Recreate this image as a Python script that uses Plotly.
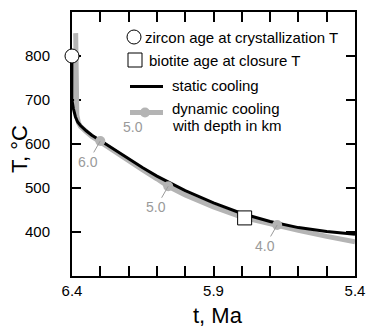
import plotly.graph_objects as go

# ---- data ----
static_t = [6.400, 6.400, 6.395, 6.388, 6.380, 6.370, 6.350, 6.330, 6.300, 6.250, 6.200,
            6.150, 6.100, 6.050, 6.000, 5.900, 5.800, 5.700, 5.600, 5.500, 5.400]
static_T = [800, 700, 680, 662, 650, 642, 630, 620, 608, 587, 566,
            546, 527, 510, 494, 466, 442, 424, 410, 401, 395]

dyn_t = [6.387, 6.387, 6.386, 6.383, 6.377, 6.370, 6.350, 6.330, 6.300, 6.250, 6.200,
         6.150, 6.100, 6.060, 6.000, 5.900, 5.800, 5.700, 5.675, 5.600, 5.500, 5.400]
dyn_T = [852, 720, 690, 665, 648, 640, 628, 617, 605, 583, 561,
         541, 521, 504, 484, 457, 434, 418, 415, 404, 390, 378]

depth_t = [6.300, 6.060, 5.675]
depth_T = [607, 504, 416]
depth_labels = ["6.0", "5.0", "4.0"]

zircon_t, zircon_T = [6.4], [800]
biotite_t, biotite_T = [5.79], [432]

x_tickvals = [6.4, 6.3, 6.2, 6.1, 6.0, 5.9, 5.8, 5.7, 5.6, 5.5, 5.4]
x_ticktext = ["6.4", "", "", "", "", "5.9", "", "", "", "", "5.4"]
y_tickvals = [400, 500, 600, 700, 800]
y_ticktext = ["400", "500", "600", "700", "800"]

GRAY = "#b4b4b4"
LABGRAY = "#9a9a9a"
FONT = "Liberation Sans, Arial, sans-serif"

# plot-area pixel frame (used for the legend overlay axes)
L, R, T_, B = 72, 355, 12, 276
W, H = 367, 329

fig = go.Figure()

fig.add_trace(go.Scatter(x=dyn_t, y=dyn_T, mode="lines",
                         line=dict(color=GRAY, width=5), hoverinfo="skip",
                         showlegend=False))
fig.add_trace(go.Scatter(x=static_t, y=static_T, mode="lines",
                         line=dict(color="black", width=3), hoverinfo="skip",
                         showlegend=False))
fig.add_trace(go.Scatter(x=depth_t, y=depth_T, mode="markers",
                         marker=dict(color=GRAY, size=10), showlegend=False))
fig.add_trace(go.Scatter(x=zircon_t, y=zircon_T, mode="markers", cliponaxis=False,
                         marker=dict(symbol="circle", size=14, color="white",
                                     line=dict(color="black", width=1)),
                         showlegend=False))
fig.add_trace(go.Scatter(x=biotite_t, y=biotite_T, mode="markers", cliponaxis=False,
                         marker=dict(symbol="square", size=14, color="white",
                                     line=dict(color="black", width=1)),
                         showlegend=False))

# legend glyphs on pixel-coordinate overlay axes
fig.add_trace(go.Scatter(x=[134], y=[37], xaxis="x2", yaxis="y2", mode="markers",
                         marker=dict(symbol="circle", size=14, color="white",
                                     line=dict(color="black", width=1)), showlegend=False))
fig.add_trace(go.Scatter(x=[135], y=[60], xaxis="x2", yaxis="y2", mode="markers",
                         marker=dict(symbol="square", size=14, color="white",
                                     line=dict(color="black", width=1)), showlegend=False))
fig.add_trace(go.Scatter(x=[130, 163], y=[86.5, 86.5], xaxis="x2", yaxis="y2", mode="lines",
                         line=dict(color="black", width=3), showlegend=False))
fig.add_trace(go.Scatter(x=[130, 163], y=[112.5, 112.5], xaxis="x2", yaxis="y2", mode="lines",
                         line=dict(color=GRAY, width=5), showlegend=False))
fig.add_trace(go.Scatter(x=[145], y=[112.5], xaxis="x2", yaxis="y2", mode="markers",
                         marker=dict(color=GRAY, size=10), showlegend=False))

annotations = []
for t, Tv, lab in zip(depth_t, depth_T, depth_labels):
    annotations.append(dict(x=t, y=Tv, xref="x", yref="y", text=lab, showarrow=True,
                            arrowhead=0, arrowwidth=1, arrowcolor=LABGRAY,
                            ax=-12, ay=21, standoff=0,
                            font=dict(family=FONT, size=14, color=LABGRAY)))

leg_txt = [(143, 37, "zircon age at crystallization T"),
           (147, 60, "biotite age at closure T"),
           (170, 85, "static cooling"),
           (170, 108, "dynamic cooling"),
           (170, 125, "with depth in km")]
for x, y, s in leg_txt:
    annotations.append(dict(x=x, y=y, xref="x2", yref="y2", text=s, showarrow=False,
                            xanchor="left", yanchor="middle",
                            font=dict(family=FONT, size=15, color="black")))
annotations.append(dict(x=133, y=127, xref="x2", yref="y2", text="5.0", showarrow=False,
                        xanchor="center", yanchor="middle",
                        font=dict(family=FONT, size=14, color=LABGRAY)))

# axis titles (paper coords)
def px(xp):
    return (xp - L) / (R - L)

def py(yp):
    return (B - yp) / (B - T_)

annotations.append(dict(x=px(218), y=py(315), xref="paper", yref="paper", text="t, Ma",
                        showarrow=False, xanchor="center", yanchor="middle",
                        font=dict(family=FONT, size=22, color="black")))
annotations.append(dict(x=px(19), y=py(149), xref="paper", yref="paper", text="T, °C",
                        showarrow=False, xanchor="center", yanchor="middle", textangle=-90,
                        font=dict(family=FONT, size=22, color="black")))

fig.update_layout(
    width=W, height=H,
    margin=dict(l=L, r=W - R, t=T_, b=H - B, pad=0, autoexpand=False),
    paper_bgcolor="white", plot_bgcolor="white",
    showlegend=False,
    annotations=annotations,
    font=dict(family=FONT, size=15, color="black"),
    xaxis=dict(range=[6.4, 5.4], tickvals=x_tickvals, ticktext=x_ticktext,
               ticks="inside", ticklen=10, tickwidth=1.5, tickcolor="black",
               showline=True, linecolor="black", linewidth=2, mirror="ticks",
               showgrid=False, zeroline=False, automargin=False, layer="below traces",
               tickfont=dict(family=FONT, size=15, color="black")),
    yaxis=dict(range=[300, 900], tickvals=y_tickvals, ticktext=y_ticktext,
               ticks="inside", ticklen=9, tickwidth=1.5, tickcolor="black",
               showline=True, linecolor="black", linewidth=2, mirror="ticks",
               showgrid=False, zeroline=False, ticklabelstandoff=17, automargin=False,
               layer="below traces",
               tickfont=dict(family=FONT, size=15, color="black")),
    xaxis2=dict(overlaying="x", range=[L, R], visible=False, fixedrange=True),
    yaxis2=dict(overlaying="y", range=[B, T_], visible=False, fixedrange=True),
)

fig.write_html("out.html")
